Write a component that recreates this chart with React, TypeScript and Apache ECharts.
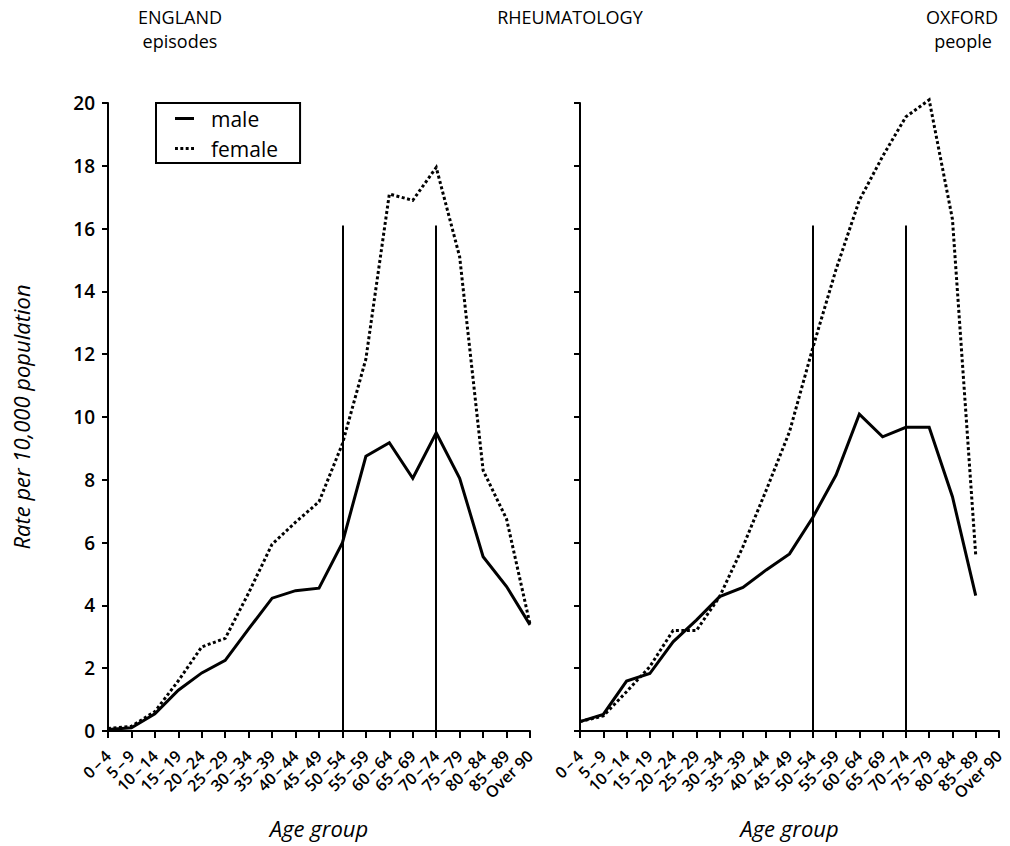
import React, { useEffect, useRef } from "react";
import * as echarts from "echarts";

// Age bands on the horizontal axis
const ageGroups = [
  "0\u2009–\u20094", "5\u2009–\u20099", "10\u2009–\u200914", "15\u2009–\u200919", "20\u2009–\u200924",
  "25\u2009–\u200929", "30\u2009–\u200934", "35\u2009–\u200939", "40\u2009–\u200944", "45\u2009–\u200949",
  "50\u2009–\u200954", "55\u2009–\u200959", "60\u2009–\u200964", "65\u2009–\u200969", "70\u2009–\u200974",
  "75\u2009–\u200979", "80\u2009–\u200984", "85\u2009–\u200989", "Over 90",
];

// England, episodes (rate per 10,000 population)
const englandMale = [0.05, 0.1, 0.55, 1.3, 1.85, 2.25, 3.25, 4.23, 4.47, 4.55, 6.0, 8.75, 9.18, 8.05, 9.5, 8.05, 5.55, 4.6, 3.38];
const englandFemale = [0.08, 0.15, 0.62, 1.6, 2.68, 2.95, 4.4, 5.95, 6.65, 7.3, 9.15, 11.85, 17.1, 16.9, 17.95, 15.1, 8.3, 6.75, 3.4];

// Oxford, people (rate per 10,000 population)
const oxfordMale = [0.3, 0.53, 1.59, 1.83, 2.84, 3.53, 4.28, 4.57, 5.13, 5.64, 6.8, 8.15, 10.09, 9.37, 9.67, 9.67, 7.46, 4.31, null];
const oxfordFemale = [0.3, 0.48, 1.25, 2.05, 3.2, 3.2, 4.28, 5.87, 7.67, 9.53, 12.2, 14.7, 16.9, 18.3, 19.56, 20.1, 16.3, 5.6, null];

// Bands marked with vertical reference lines, and the lines' height
const markerGroups = [ageGroups[10], ageGroups[14]];
const markerTop = 16.1;

const yTicks = { min: 0, max: 20, interval: 2 };

const FONT = "'Open Sans', 'Liberation Sans', sans-serif";
const INK = "#000";

// Legend keys: a solid bar and a row of dots
const maleIcon = "path://M0,0h19v3h-19z";
const femaleIcon = "path://M0,0h3v3h-3z M5.5,0h3v3h-3z M11,0h3v3h-3z M16.5,0h3v3h-3z";

function markerLines() {
  return {
    silent: true,
    symbol: ["none", "none"],
    label: { show: false },
    lineStyle: { color: INK, width: 2, type: "solid" },
    data: markerGroups.map((g) => [
      { coord: [g, 0] },
      { coord: [g, markerTop] },
    ]),
  };
}

function xAxis(gridIndex: number) {
  return {
    type: "category",
    gridIndex,
    data: ageGroups,
    boundaryGap: false,
    name: "Age group",
    nameLocation: "middle",
    nameGap: 86,
    nameTextStyle: { fontFamily: FONT, fontSize: 22, fontStyle: "italic", color: INK },
    axisLine: { lineStyle: { color: INK, width: 2 } },
    axisTick: { show: true, length: 7, interval: 0, lineStyle: { color: INK, width: 2 } },
    axisLabel: {
      interval: 0,
      rotate: 45,
      margin: 22,
      fontFamily: FONT,
      fontSize: 16,
      fontWeight: 600,
      color: INK,
    },
    splitLine: { show: false },
  };
}

function yAxis(gridIndex: number, showLabels: boolean) {
  return {
    type: "value",
    gridIndex,
    ...yTicks,
    name: showLabels ? "Rate per 10,000 population" : "",
    nameLocation: "middle",
    nameGap: 76,
    nameTextStyle: { fontFamily: FONT, fontSize: 22, fontStyle: "italic", color: INK },
    axisLine: { show: true, lineStyle: { color: INK, width: 2 } },
    axisTick: { show: true, length: 6, lineStyle: { color: INK, width: 2 } },
    axisLabel: {
      show: showLabels,
      margin: 13,
      fontFamily: FONT,
      fontSize: 19,
      fontWeight: 600,
      color: INK,
    },
    splitLine: { show: false },
  };
}

function lineSeries(name: string, data: (number | null)[], idx: number, dotted: boolean, withMarkers: boolean) {
  return {
    name,
    type: "line",
    xAxisIndex: idx,
    yAxisIndex: idx,
    data,
    symbol: "none",
    clip: false,
    connectNulls: false,
    lineStyle: {
      color: INK,
      width: 3,
      type: dotted ? [3, 2.5] : "solid",
      cap: "butt",
      join: "miter",
    },
    itemStyle: { color: INK },
    markLine: withMarkers ? markerLines() : undefined,
    z: 3,
  };
}

function heading(text: string, centerX: number, top: number) {
  return {
    text,
    left: centerX,
    top,
    padding: 0,
    textAlign: "center",
    textStyle: { fontFamily: FONT, fontSize: 18, fontWeight: "normal", color: INK, lineHeight: 18 },
  };
}

export default function App() {
  const ref = useRef<HTMLDivElement>(null);

  useEffect(() => {
    if (!ref.current) return;
    const chart = echarts.init(ref.current, null, { renderer: "svg" });
    chart.setOption({
      animation: false,
      backgroundColor: "#fff",
      title: [
        heading("ENGLAND", 180, 8),
        heading("episodes", 180, 32),
        heading("RHEUMATOLOGY", 570, 8),
        heading("OXFORD", 962, 8),
        heading("people", 963, 32),
      ],
      legend: {
        data: [
          { name: "male", icon: maleIcon },
          { name: "female", icon: femaleIcon },
        ],
        orient: "vertical",
        left: 156,
        top: 103,
        padding: [5, 22, 4, 19],
        itemGap: 9,
        itemWidth: 19,
        itemHeight: 10,
        borderColor: INK,
        borderWidth: 2,
        textStyle: { fontFamily: FONT, fontSize: 21, color: INK, padding: [0, 0, 0, 12] },
      },
      grid: [
        { left: 108, top: 103, width: 422, height: 628 },
        { left: 580, top: 103, width: 419, height: 628 },
      ],
      xAxis: [xAxis(0), xAxis(1)],
      yAxis: [yAxis(0, true), yAxis(1, false)],
      series: [
        lineSeries("male", englandMale, 0, false, true),
        lineSeries("female", englandFemale, 0, true, false),
        lineSeries("male", oxfordMale, 1, false, true),
        lineSeries("female", oxfordFemale, 1, true, false),
      ],
    });
    return () => chart.dispose();
  }, []);

  return (
    <div
      ref={ref}
      style={{ position: "absolute", left: 0, top: 0, width: 1010, height: 846 }}
    />
  );
}
